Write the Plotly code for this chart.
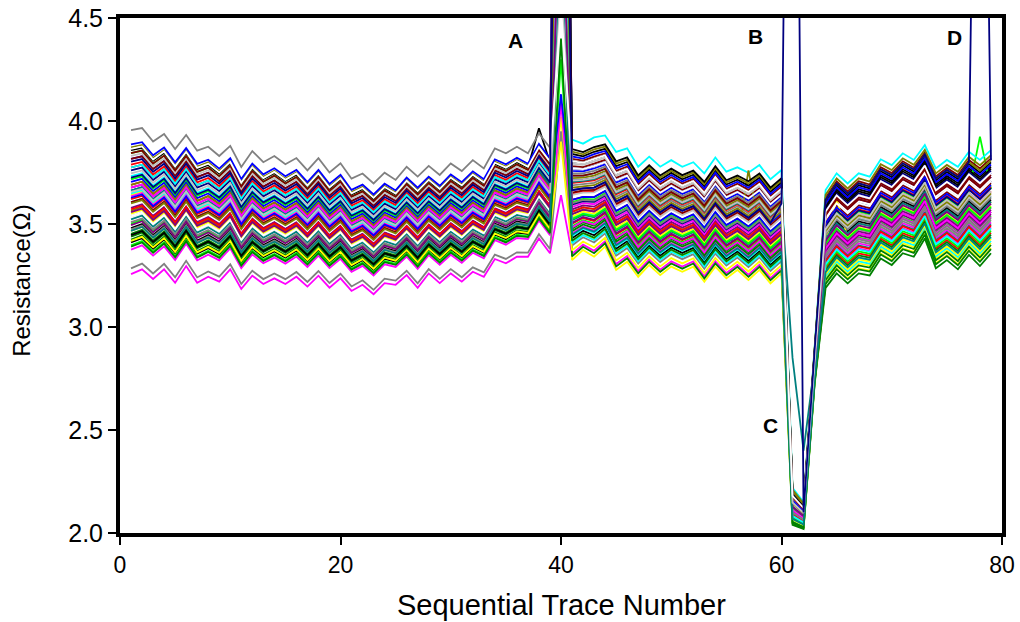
import plotly.graph_objects as go

# ---------------- data ----------------
traces = list(range(1, 80))

# envelope of the bundle, traces 1..39 (top = grey line, bottom = magenta line)
left_top = [3.956, 3.966, 3.900, 3.937, 3.864, 3.932, 3.856, 3.875, 3.830, 3.879,
            3.777, 3.854, 3.800, 3.830, 3.790, 3.820, 3.760, 3.820, 3.750, 3.795,
            3.720, 3.745, 3.697, 3.749, 3.714, 3.778, 3.730, 3.782, 3.738, 3.794,
            3.757, 3.810, 3.770, 3.867, 3.843, 3.875, 3.843, 3.940, 3.870]
left_bottom = [3.257, 3.280, 3.233, 3.280, 3.215, 3.296, 3.215, 3.244, 3.220, 3.280,
               3.185, 3.249, 3.209, 3.236, 3.209, 3.244, 3.196, 3.249, 3.191, 3.236,
               3.175, 3.205, 3.159, 3.213, 3.205, 3.252, 3.190, 3.260, 3.213, 3.260,
               3.220, 3.268, 3.244, 3.330, 3.309, 3.341, 3.341, 3.430, 3.358]

# envelope, traces 41..60
mid_top = [3.910, 3.890, 3.920, 3.930, 3.850, 3.867, 3.778, 3.827, 3.778, 3.810,
           3.778, 3.800, 3.746, 3.823, 3.754, 3.775, 3.749, 3.786, 3.717, 3.762]
mid_bottom = [3.325, 3.374, 3.341, 3.390, 3.277, 3.317, 3.244, 3.301, 3.252, 3.293,
              3.268, 3.293, 3.220, 3.293, 3.236, 3.277, 3.228, 3.277, 3.212, 3.260]

# envelope, traces 61..79 (61-62 = dip "C")
right_top = [2.220, 2.150, 2.900, 3.665, 3.746, 3.697, 3.746, 3.730, 3.814, 3.786,
             3.843, 3.811, 3.883, 3.770, 3.811, 3.778, 3.851, 3.811, 3.859]
right_bottom = [2.040, 2.020, 2.720, 3.190, 3.260, 3.212, 3.260, 3.250, 3.333, 3.301,
                3.358, 3.341, 3.430, 3.285, 3.325, 3.280, 3.350, 3.296, 3.358]

# relative place of every line inside the envelope (0 = bottom, 1 = top)
pos_left = [0.86, 0.62, 0.35, 0.55, 0.80, 0.00, 0.50, 1.00, 0.74, 0.24, 0.88, 0.58, 0.46, 0.66, 0.40, 0.70,
            0.22, 0.52, 0.84, 0.30, 0.64, 0.17, 0.56, 0.04, 0.80, 0.28, 0.44, 0.72, 0.60, 0.38, 0.82, 0.48,
            0.32, 0.76, 0.20, 0.42, 0.90, 0.54, 0.68, 0.36, 0.50, 0.26, 0.62, 0.78, 0.34, 0.58, 0.70, 0.40,
            0.27, 0.45, 0.66, 0.23, 0.53, 0.60, 0.74, 0.31, 0.84, 0.19, 0.49, 0.67, 0.43, 0.30, 0.57, 0.87]
pos_mid = [0.82, 0.55, 0.40, 0.00, 0.74, 0.05, 1.00, 0.62, 0.78, 0.03, 0.38, 0.66, 0.50, 0.70, 0.45, 0.60,
           0.88, 0.30, 0.48, 0.15, 0.58, 0.22, 0.35, 0.12, 0.84, 0.26, 0.68, 0.76, 0.42, 0.33, 0.80, 0.52,
           0.18, 0.64, 0.28, 0.36, 0.86, 0.44, 0.20, 0.72, 0.56, 0.24, 0.90, 0.46, 0.31, 0.65, 0.54, 0.76,
           0.92, 0.40, 0.34, 0.08, 0.50, 0.27, 0.14, 0.47, 0.70, 0.16, 0.60, 0.58, 0.38, 0.21, 0.66, 0.82]
pos_right = [0.84, 0.60, 0.62, 0.05, 0.74, 0.30, 1.00, 0.44, 0.92, 0.00, 0.50, 0.70, 0.40, 0.55, 0.48, 0.66,
             0.88, 0.20, 0.36, 0.10, 0.78, 0.25, 0.15, 0.32, 0.68, 0.18, 0.95, 0.80, 0.42, 0.28, 0.58, 0.72,
             0.52, 0.64, 0.22, 0.46, 0.86, 0.35, 0.12, 0.54, 0.76, 0.08, 0.90, 0.63, 0.38, 0.50, 0.56, 0.70,
             0.82, 0.27, 0.45, 0.14, 0.66, 0.40, 0.24, 0.34, 0.74, 0.04, 0.58, 0.90, 0.48, 0.16, 0.60, 0.78]

# value of every line at trace 40 (spike "A")
peak_40 = [8.5, 7.0, 6.2, 5.5, 7.8, 3.64, 6.8, 8.0, 7.4, 5.2, 8.8, 6.5, 5.8, 7.2, 4.8, 4.7,
           6.0, 5.6, 7.6, 4.02, 6.6, 4.09, 5.4, 3.95, 8.2, 5.0, 7.0, 6.4, 5.9, 5.3, 4.9, 4.6,
           5.1, 7.3, 4.30, 5.7, 8.6, 6.1, 6.9, 5.2, 6.3, 4.8, 7.9, 7.1, 5.5, 6.7, 4.65, 5.0,
           8.1, 5.8, 6.2, 3.90, 4.13, 5.6, 6.0, 5.4, 7.5, 4.40, 6.6, 7.7, 5.3, 4.9, 4.7, 4.55]

# single readings that leave the bundle: (line, trace, value)
special_points = [(0, 38, 3.965), (10, 56, 3.41), (10, 57, 3.76), (10, 58, 3.49),
                  (2, 78, 3.924), (35, 65, 3.62), (13, 61, 2.85), (13, 62, 2.40),
                  (59, 60, 3.60), (59, 61, 8.6), (59, 62, 2.10), (59, 78, 7.7)]

palette = ["#000000", "#FF0000", "#00FF00", "#FFFF00", "#0000FF", "#FF00FF", "#00FFFF", "#808080",
           "#800000", "#008000", "#808000", "#000080", "#800080", "#008080", "#C0C0C0", "#FFFFFF"]

labels = ["A", "B", "C", "D"]
label_x = [35.9, 57.6, 59.0, 75.7]
label_y = [4.393, 4.41, 2.524, 4.405]

# ---------------- build series ----------------
n_lines = len(pos_left)
series = []
for i in range(n_lines):
    ys = []
    for t in traces:
        if t <= 39:
            k = t - 1
            ys.append(left_bottom[k] + pos_left[i] * (left_top[k] - left_bottom[k]))
        elif t == 40:
            ys.append(peak_40[i])
        elif t <= 60:
            k = t - 41
            ys.append(mid_bottom[k] + pos_mid[i] * (mid_top[k] - mid_bottom[k]))
        else:
            k = t - 61
            ys.append(right_bottom[k] + pos_right[i] * (right_top[k] - right_bottom[k]))
    series.append(ys)
for (i, t, v) in special_points:
    series[i][t - 1] = v

fig = go.Figure()
order = [i for i in range(n_lines) if i != 59] + [59]
for i in order:
    fig.add_trace(go.Scatter(x=traces, y=series[i], mode="lines",
                             line=dict(color=palette[i % 16], width=1.8),
                             showlegend=False, hoverinfo="skip"))

font_family = "Liberation Sans, Arial, sans-serif"
for lab, lx, ly in zip(labels, label_x, label_y):
    fig.add_annotation(x=lx, y=ly, text="<b>%s</b>" % lab, showarrow=False,
                       font=dict(family=font_family, size=21, color="black"))

# axis titles
fig.add_annotation(xref="paper", yref="paper", x=0.5, y=-0.14, text="Sequential Trace Number",
                   showarrow=False, xanchor="center", yanchor="middle",
                   font=dict(family=font_family, size=29, color="black"))
fig.add_annotation(xref="paper", yref="paper", x=-0.112, y=0.49, text="Resistance(\u03a9)",
                   showarrow=False, textangle=-90, xanchor="center", yanchor="middle",
                   font=dict(family=font_family, size=24, color="black"))

fig.update_layout(
    width=1020, height=622,
    margin=dict(l=120, r=18, t=18, b=89, autoexpand=False),
    paper_bgcolor="white", plot_bgcolor="white",
    font=dict(family=font_family, color="black"),
    xaxis=dict(range=[0, 80], dtick=20, tick0=0, showgrid=False, zeroline=False,
               showline=True, linewidth=4, linecolor="black", mirror=True, automargin=False,
               ticks="outside", ticklen=8, tickwidth=1.5, tickcolor="black",
               tickfont=dict(size=23)),
    yaxis=dict(range=[2.0, 4.5], dtick=0.5, tick0=2.0, tickformat=".1f", showgrid=False,
               zeroline=False, showline=True, linewidth=4, linecolor="black", mirror=True,
               automargin=False,
               ticks="outside", ticklen=8, tickwidth=1.5, tickcolor="black",
               tickfont=dict(size=25)),
)

fig.write_html("out.html")
